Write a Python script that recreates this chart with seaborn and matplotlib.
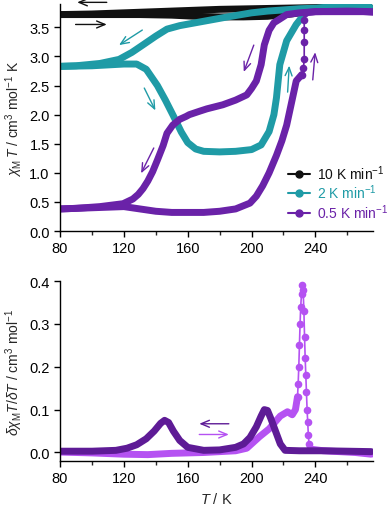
import matplotlib
matplotlib.use("Agg")
import matplotlib.pyplot as plt
import numpy as np
import pandas as pd
import seaborn as sns
from matplotlib.lines import Line2D
from matplotlib.ticker import MultipleLocator

sns.set_style("ticks")
plt.rcParams["font.family"] = ["Liberation Sans", "DejaVu Sans"]
plt.rcParams["mathtext.fontset"] = "custom"
plt.rcParams["mathtext.rm"] = "Liberation Sans"
plt.rcParams["mathtext.it"] = "Liberation Sans:italic"

# colours
c_black = "#111111"
c_teal = "#1f9ba6"
c_purple = "#6a22a8"
c_dark = "#5e1b96"
c_light = "#b552f2"

# ---------------- top panel: chi_M T vs T ----------------
black_warm_T = [80, 100, 120, 140, 160, 180, 200, 220, 240, 260, 274]
black_warm = [3.72, 3.73, 3.75, 3.77, 3.79, 3.81, 3.82, 3.83, 3.84, 3.85, 3.85]
black_cool_T = [274, 255, 240, 225, 210, 195, 180, 165, 150, 130, 110, 80]
black_cool = [3.85, 3.83, 3.79, 3.73, 3.69, 3.68, 3.68, 3.69, 3.71, 3.72, 3.72, 3.72]

teal_cool_T = [274, 250, 230, 210, 200, 185, 167, 155, 147, 140, 132, 125, 117, 105, 90, 80]
teal_cool = [3.85, 3.84, 3.82, 3.78, 3.75, 3.68, 3.59, 3.53, 3.47, 3.35, 3.2, 3.07, 2.95, 2.88, 2.84, 2.83]
teal_warm_T = [80, 100, 120, 128, 134, 141, 146, 151, 156, 160, 165, 170, 180, 190, 200, 206,
               211, 214, 215.6, 217.7, 222, 228, 231.5, 234, 245, 274]
teal_warm = [2.83, 2.84, 2.87, 2.87, 2.78, 2.5, 2.25, 1.98, 1.7, 1.52, 1.41, 1.37, 1.36, 1.37, 1.40, 1.48,
             1.71, 2.0, 2.29, 2.86, 3.27, 3.55, 3.67, 3.8, 3.84, 3.85]

purple_cool_T = [276, 260, 240, 230, 222, 217.5, 214, 211, 208, 206, 203, 200, 197, 190, 182, 172,
                 167.5, 161, 159, 155, 150.6, 147, 144.6, 141, 138, 135, 132, 129, 125.6, 119.5, 105, 90, 80]
purple_cool = [3.77, 3.78, 3.77, 3.75, 3.72, 3.64, 3.58, 3.45, 3.2, 2.86, 2.58, 2.45, 2.34, 2.25, 2.17, 2.1,
               2.06, 2.0, 1.97, 1.92, 1.82, 1.68, 1.47, 1.22, 1.02, 0.86, 0.73, 0.63, 0.55, 0.47, 0.42, 0.39, 0.38]
purple_warm_T = [80, 100, 120, 130, 140, 150, 160, 170, 180, 190, 199, 203, 207, 211, 215.6, 219, 222,
                 225, 228, 231.5]
purple_warm = [0.38, 0.40, 0.42, 0.38, 0.34, 0.32, 0.32, 0.32, 0.34, 0.38, 0.48, 0.6, 0.78, 1.0, 1.3, 1.55,
               1.82, 2.2, 2.58, 2.69]
purple_jump_T = [231.5, 232.5, 233, 233, 233, 233, 233.5]
purple_jump = [2.69, 2.8, 2.95, 3.25, 3.45, 3.62, 3.75]
purple_high_T = [233.5, 240, 250, 260, 270, 276]
purple_high = [3.75, 3.77, 3.77, 3.77, 3.77, 3.76]

# ---------------- bottom panel: derivative ----------------
dcool_T = [80, 100, 115, 122, 128, 134, 139, 143, 145.5, 148, 151, 155, 160, 170, 180, 190, 195, 199,
           203, 206, 208, 210, 212, 215, 218, 221, 230, 245, 260, 275]
dcool = [0.003, 0.003, 0.005, 0.01, 0.018, 0.032, 0.05, 0.068, 0.075, 0.07, 0.05, 0.028, 0.012, 0.005,
         0.006, 0.012, 0.02, 0.035, 0.06, 0.085, 0.1, 0.098, 0.08, 0.05, 0.02, 0.005, 0.004, 0.004, 0.003, 0.002]
dwarm_T = [80, 100, 120, 135, 150, 170, 190, 197, 205, 211, 218, 222.5, 225.5, 227.5, 228.8]
dwarm = [0.001, -0.001, -0.004, -0.005, -0.002, 0.0, 0.004, 0.01, 0.037, 0.055, 0.085, 0.095, 0.088, 0.1, 0.13]
dpeak_T = [228.8, 229.2, 229.6, 230.0, 230.4, 230.8, 231.3, 231.8, 232.3, 232.8, 233.2, 233.6, 234.0,
           234.4, 234.8, 235.2, 235.6, 236.0, 236.5]
dpeak = [0.13, 0.16, 0.2, 0.25, 0.3, 0.34, 0.37, 0.39, 0.38, 0.33, 0.27, 0.22, 0.18, 0.14, 0.1, 0.07,
         0.04, 0.02, 0.008]
dtail_T = [236.5, 245, 255, 265, 275]
dtail = [0.008, 0.004, 0.002, 0.0, -0.004]

legend_labels = ["10 K min$^{-1}$", "2 K min$^{-1}$", "0.5 K min$^{-1}$"]

fig = plt.figure(figsize=(3.9, 5.1), dpi=100)
ax1 = fig.add_axes([0.154, 0.545, 0.802, 0.445])
ax2 = fig.add_axes([0.154, 0.094, 0.802, 0.353])


def draw(ax, T, v, color, lw=5.0, marker=None, ms=0):
    df = pd.DataFrame({"T": T, "v": v})
    sns.lineplot(data=df, x="T", y="v", ax=ax, sort=False, estimator=None, color=color,
                 lw=lw, marker=marker, markersize=ms, markeredgewidth=0,
                 solid_capstyle="round", solid_joinstyle="round")


draw(ax1, black_warm_T, black_warm, c_black)
draw(ax1, black_cool_T, black_cool, c_black)
draw(ax1, teal_cool_T, teal_cool, c_teal)
draw(ax1, teal_warm_T, teal_warm, c_teal)
draw(ax1, purple_cool_T, purple_cool, c_purple)
draw(ax1, purple_warm_T, purple_warm, c_purple)
draw(ax1, purple_jump_T, purple_jump, c_purple, lw=1.2, marker="o", ms=5.5)
draw(ax1, purple_high_T, purple_high, c_purple)

draw(ax2, dwarm_T, dwarm, c_light)
draw(ax2, dpeak_T, dpeak, c_light, lw=1.2, marker="o", ms=5.5)
draw(ax2, dtail_T, dtail, c_light)
draw(ax2, dcool_T, dcool, c_dark)


def arrow(ax, start, end, color):
    ax.annotate("", xy=end, xytext=start, annotation_clip=False,
                arrowprops=dict(arrowstyle="->,head_length=0.6,head_width=0.25", color=color, lw=1.0))


arrow(ax1, (111, 3.93), (89, 3.93), c_black)
arrow(ax1, (88, 3.55), (111, 3.55), c_black)
arrow(ax1, (133, 3.48), (115.5, 3.17), c_teal)
arrow(ax1, (132, 2.5), (140.5, 2.03), c_teal)
arrow(ax1, (139.5, 1.47), (130, 0.95), c_purple)
arrow(ax1, (202, 3.24), (194.5, 2.69), c_purple)
arrow(ax1, (222.5, 2.34), (223.7, 2.89), c_teal)
arrow(ax1, (238.2, 2.55), (240, 3.12), c_purple)

arrow(ax2, (187.5, 0.067), (165.5, 0.067), c_dark)
arrow(ax2, (165.5, 0.042), (187.5, 0.042), c_light)

for ax in (ax1, ax2):
    ax.set_xlim(80, 276)
    ax.xaxis.set_major_locator(MultipleLocator(40))
    ax.xaxis.set_minor_locator(MultipleLocator(20))
    ax.tick_params(which="major", direction="out", length=4, width=1, labelsize=10.5, colors="black")
    ax.tick_params(which="minor", direction="out", length=3, width=1)
    for s in ("left", "bottom"):
        ax.spines[s].set_linewidth(1.0)
        ax.spines[s].set_color("black")
    sns.despine(ax=ax)

ax1.set_ylim(0, 3.9)
ax1.yaxis.set_major_locator(MultipleLocator(0.5))
ax1.yaxis.set_major_formatter(matplotlib.ticker.FormatStrFormatter("%.1f"))
ax1.set_xlabel("")
ax1.set_ylabel(r"$\chi_{\rm M}\,T$ / cm$^3$ mol$^{-1}$ K", fontsize=10, labelpad=3)

ax2.set_ylim(-0.02, 0.4)
ax2.yaxis.set_major_locator(MultipleLocator(0.1))
ax2.yaxis.set_major_formatter(matplotlib.ticker.FormatStrFormatter("%.1f"))
ax2.set_xlabel(r"$T$ / K", fontsize=10.5, labelpad=4)
ax2.set_ylabel(r"$\delta\chi_{\rm M}T/\delta T$ / cm$^3$ mol$^{-1}$", fontsize=10, labelpad=3)

handles = [Line2D([], [], color=c, lw=1.5, marker="o", markersize=5)
           for c in (c_black, c_teal, c_purple)]
leg = ax1.legend(handles, legend_labels, loc="lower right", frameon=False, fontsize=10,
                 bbox_to_anchor=(1.0, (510 - 223) / 510), bbox_transform=fig.transFigure,
                 handlelength=1.6, handletextpad=0.5, labelspacing=0.05, borderaxespad=0,
                 borderpad=0.1)
for txt, c in zip(leg.get_texts(), (c_black, c_teal, c_purple)):
    txt.set_color(c)

fig.savefig("out.png", dpi=100)
